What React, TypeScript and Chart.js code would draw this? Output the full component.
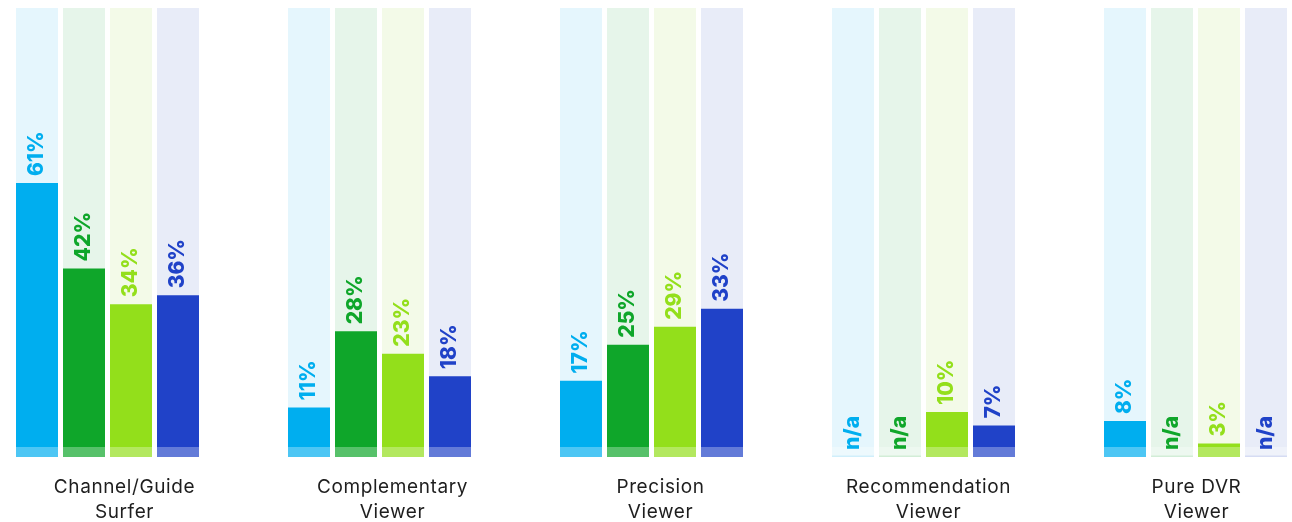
import React, { useEffect, useRef } from 'react';
import { Chart, registerables } from 'chart.js';

Chart.register(...registerables);

// Viewer types along the x axis (two-line labels)
const CATEGORIES: string[][] = [
  ['Channel/Guide', 'Surfer'],
  ['Complementary', 'Viewer'],
  ['Precision', 'Viewer'],
  ['Recommendation', 'Viewer'],
  ['Pure DVR', 'Viewer'],
];

// Share per segment, in percent; null means not available
const SEGMENT_1: (number | null)[] = [61, 11, 17, null, 8];
const SEGMENT_2: (number | null)[] = [42, 28, 25, null, null];
const SEGMENT_3: (number | null)[] = [34, 23, 29, 10, 3];
const SEGMENT_4: (number | null)[] = [36, 18, 33, 7, null];

const SCALE_MAX = 100;
const NA_LABEL = 'n/a';

const SERIES = [SEGMENT_1, SEGMENT_2, SEGMENT_3, SEGMENT_4];
const BAR_COLORS = ['#00AEEF', '#0FA62A', '#93DF1B', '#2042C8'];
const TRACK_COLORS = ['#E5F6FD', '#E6F5EA', '#F3FAE8', '#E8ECF8'];

// Layout in pixels
const GROUP_PITCH = 272;
const BAR_SLOT = 47;
const BAR_WIDTH = 42;
const STRIP_HEIGHT = 10;
const LABEL_GAP = 7;
const AXIS_HEIGHT = 65;
// Category labels sit on a slightly tighter pitch than the bar groups
const LABEL_SHIFT = 17 / GROUP_PITCH;
const LABEL_STEP = 268 / GROUP_PITCH;

const FONT = 'Inter';

function withAlpha(hex: string, a: number): string {
  const n = parseInt(hex.slice(1), 16);
  return `rgba(${(n >> 16) & 255},${(n >> 8) & 255},${n & 255},${a})`;
}

const barDecorations = {
  id: 'barDecorations',
  beforeDraw(chart: any) {
    chart.ctx.letterSpacing = '0.6px';
  },
  beforeDatasetsDraw(chart: any) {
    chart.ctx.letterSpacing = '0px';
  },
  afterDatasetsDraw(chart: any) {
    const ctx: CanvasRenderingContext2D = chart.ctx;
    const y0 = chart.scales.y.getPixelForValue(0);
    ctx.save();
    ctx.letterSpacing = '0px';
    SERIES.forEach((values, s) => {
      const valueMeta = chart.getDatasetMeta(s);
      const trackMeta = chart.getDatasetMeta(SERIES.length + s);
      values.forEach((v, i) => {
        const track = trackMeta.data[i];
        if (!track) return;
        const { x, width } = track.getProps(['x', 'width'], true);
        const left = x - width / 2;

        // lighter band along the foot of every bar
        ctx.fillStyle = 'rgba(255,255,255,0.3)';
        ctx.fillRect(left, y0 - STRIP_HEIGHT, width, STRIP_HEIGHT);
        if (v === null) {
          ctx.fillStyle = withAlpha(BAR_COLORS[s], 0.12);
          ctx.fillRect(left, y0 - 1.5, width, 1.5);
        }

        // rotated value label just above the bar top
        const top = v === null ? y0 : valueMeta.data[i].y;
        ctx.save();
        ctx.translate(x, top - LABEL_GAP);
        ctx.rotate(-Math.PI / 2);
        ctx.font = `800 21px ${FONT}`;
        ctx.fillStyle = BAR_COLORS[s];
        ctx.textAlign = 'left';
        ctx.textBaseline = 'middle';
        ctx.fillText(v === null ? NA_LABEL : `${v}%`, 0, 0);
        ctx.restore();
      });
    });
    ctx.restore();
  },
};

export default function App() {
  const canvasRef = useRef<HTMLCanvasElement>(null);

  useEffect(() => {
    if (!canvasRef.current) return;
    Chart.defaults.font.family = FONT;

    const valueSets = SERIES.map((values, s) => ({
      label: `Segment ${s + 1}`,
      data: values,
      backgroundColor: BAR_COLORS[s],
      stack: `s${s}`,
      borderWidth: 0,
      clip: false as const,
    }));
    const trackSets = SERIES.map((values, s) => ({
      label: `Track ${s + 1}`,
      data: values.map(() => SCALE_MAX),
      backgroundColor: TRACK_COLORS[s],
      stack: `s${s}`,
      borderWidth: 0,
      clip: false as const,
    }));

    const chart = new Chart(canvasRef.current, {
      type: 'bar',
      data: {
        labels: CATEGORIES.map((c) => c.join(' ')),
        datasets: [...valueSets, ...trackSets],
      },
      plugins: [barDecorations],
      options: {
        animation: false,
        responsive: true,
        maintainAspectRatio: false,
        events: [],
        layout: {
          padding: {
            left: 107.5,
            right: 96.5,
            top: 8,
            bottom: 0,
          },
        },
        datasets: {
          bar: {
            categoryPercentage: (BAR_SLOT * SERIES.length) / GROUP_PITCH,
            barPercentage: BAR_WIDTH / BAR_SLOT,
          },
        },
        plugins: {
          legend: { display: false },
          tooltip: { enabled: false },
        },
        scales: {
          x: {
            type: 'category',
            stacked: true,
            offset: false,
            display: false,
          },
          y: {
            min: 0,
            max: SCALE_MAX,
            stacked: false,
            display: false,
          },
          labels: {
            type: 'linear',
            axis: 'x',
            position: 'bottom',
            offset: false,
            bounds: 'data',
            min: 0,
            max: CATEGORIES.length - 1,
            grid: { display: false, drawTicks: false, offset: false },
            border: { display: false },
            afterBuildTicks: (axis: any) => {
              axis.ticks = CATEGORIES.map((_, i) => ({
                value: LABEL_SHIFT + i * LABEL_STEP,
              }));
            },
            afterFit: (axis: any) => {
              axis.height = AXIS_HEIGHT;
            },
            ticks: {
              autoSkip: false,
              maxRotation: 0,
              minRotation: 0,
              padding: 18.5,
              color: '#1e1e1e',
              font: { family: FONT, size: 19, lineHeight: 1.28 },
              callback: (_v: any, i: number) => CATEGORIES[i],
            },
          },
        },
      } as any,
    });

    return () => chart.destroy();
  }, []);

  return (
    <div
      style={{
        position: 'fixed',
        left: 0,
        top: 0,
        width: 1292,
        height: 522,
        background: '#ffffff',
      }}
    >
      <canvas ref={canvasRef} />
    </div>
  );
}
